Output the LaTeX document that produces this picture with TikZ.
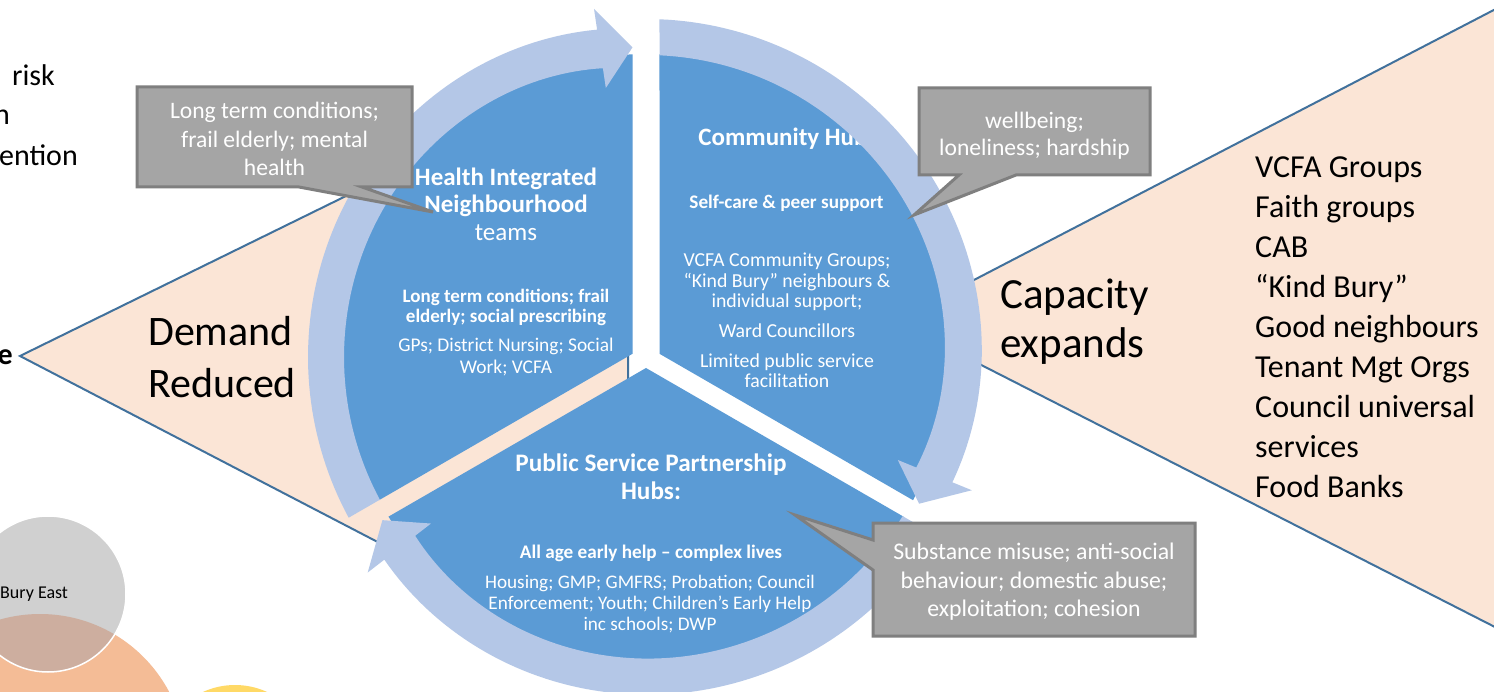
\documentclass[tikz,border=0pt]{standalone}
\usepackage{fontspec}
\setmainfont{Carlito}
\usetikzlibrary{calc}

\definecolor{pieblue}{HTML}{5B9BD5}
\definecolor{bandblue}{HTML}{B4C7E7}
\definecolor{peach}{HTML}{FBE5D6}
\definecolor{edgeblue}{HTML}{41719C}
\definecolor{callfill}{HTML}{A5A5A5}
\definecolor{calledge}{HTML}{7F7F7F}
\definecolor{venngray}{HTML}{D0D0D0}
\definecolor{vennorange}{HTML}{F4BC96}
\definecolor{vennmix}{HTML}{CDAE9F}
\definecolor{vennyellow}{HTML}{FFD966}

\newcommand{\fs}[2]{\fontsize{#1}{#2}\selectfont}

% One pie slice of the cycle: #1 start angle, #2/#3 half gaps, #4 inner corner
\newcommand{\pieseg}[4]{%
  \pgfmathsetmacro\segA{#1+asin(#2/303)}%
  \pgfmathsetmacro\segB{#1+120-asin(#3/303)}%
  \fill[pieblue] #4 -- plot[variable=\t, domain=\segA:\segB, samples=90] (\t:303) -- cycle;}

% Curved band with arrow head along the rim of a slice
\newcommand{\ringarrow}[3]{%
  \pgfmathsetmacro\arO{#1+asin(#2/338)}%
  \pgfmathsetmacro\arI{#1+asin(#2/302)}%
  \pgfmathsetmacro\arT{#1+120-asin(#3/310)}%
  \pgfmathsetmacro\arB{\arT-6}%
  \fill[bandblue]
    plot[variable=\t, domain=\arO:\arB, samples=80] (\t:{338-7*taper((\t-(\arO))/(\arB-(\arO)))})
    -- (\arB:352) -- (\arT:310) -- (\arB:272)
    -- plot[variable=\t, domain=\arB:\arI, samples=80] (\t:{302-10*taper((\t-(\arI))/(\arB-(\arI)))})
    -- cycle;}

\begin{document}
\begin{tikzpicture}[x=1pt, y=-1pt,
  declare function={taper(\u)=\u*\u*\u*\u*\u;},
  wtxt/.style={text=white, align=center, inner sep=0pt},
  btxt/.style={text=black, inner sep=0pt},
  callout/.style={fill=callfill, draw=calledge, line width=3pt, line join=miter},
  wedge/.style={fill=peach, draw=edgeblue, line width=2pt, line join=miter}]

\fill[white] (0,0) rectangle (1494,692);
\useasboundingbox (0,0) rectangle (1494,692);
\clip (0,0) rectangle (1494,692);

% demand and capacity wedges behind the cycle
\draw[wedge] (20,356) -- (628,57.6) -- (628,672.2) -- cycle;
\draw[wedge] (895,321) -- (1540,-14) -- (1540,650) -- cycle;

% the three slices
\begin{scope}[shift={(646,357)}]
  \pieseg{150}{9.5}{13.5}{(-13.5,-3.2)}
  \pieseg{-90}{13.5}{9.5}{(13.5,-3.2)}
  \pieseg{30}{9.5}{9.5}{(0,11)}
\end{scope}

% slice texts
\node[wtxt, font=\fs{25}{27.5}\bfseries] (hinTitle) at (506,204) {Health Integrated\\Neighbourhood\\{\mdseries teams}};
\node[wtxt, font=\fs{19}{20}\bfseries] (hinFocus) at (506,307) {Long term conditions; frail\\elderly; social prescribing};
\node[wtxt, font=\fs{19.4}{22}] (hinTeam) at (506,357) {GPs; District Nursing; Social\\Work; VCFA};

\node[wtxt, font=\fs{25}{27}\bfseries] (chTitle) at (783,139) {Community Hub};
\node[wtxt, font=\fs{19.2}{20}\bfseries] (chSelf) at (786.5,203) {Self-care \& peer support};
\node[wtxt, font=\fs{19.8}{20.5}] (chGroups) at (787,282) {VCFA Community Groups;\\“Kind Bury” neighbours \&\\individual support;};
\node[wtxt, font=\fs{19.8}{20}] (chWard) at (787,331) {Ward Councillors};
\node[wtxt, font=\fs{19.8}{20}] (chLimited) at (787,371) {Limited public service\\facilitation};

\node[wtxt, font=\fs{25.2}{28}\bfseries] (psTitle) at (651,477) {Public Service Partnership\\Hubs:};
\node[wtxt, font=\fs{19.2}{20}\bfseries] (psFocus) at (651,553) {All age early help – complex lives};
\node[wtxt, font=\fs{19.2}{21}] (psMembers) at (650,604) {Housing; GMP; GMFRS; Probation; Council\\Enforcement; Youth; Children’s Early Help\\inc schools; DWP};

% rim arrows
\begin{scope}[shift={(646,357)}]
  \ringarrow{150}{9.5}{13.5}
  \ringarrow{-90}{13.5}{9.5}
  \ringarrow{30}{9.5}{9.5}
\end{scope}

% callouts
\draw[callout] (137,87) -- (412,87) -- (412,187) -- (362,187) -- (433,212) -- (299,187) -- (137,187) -- cycle;
\node[wtxt, font=\fs{23.6}{28.5}] (cHealth) at (274.5,139) {Long term conditions;\\frail elderly; mental\\health};

\draw[callout] (919,88) -- (1150,88) -- (1150,175) -- (1016,175) -- (914,215) -- (959,175) -- (919,175) -- cycle;
\node[wtxt, font=\fs{23.6}{27}] (cWell) at (1034.5,136) {wellbeing;\\loneliness; hardship};

\draw[callout] (873,523) -- (1195,523) -- (1195,636) -- (873,636) -- (873,570) -- (795,515) -- (873,540) -- cycle;
\node[wtxt, font=\fs{23.8}{28.5}] (cAbuse) at (1034,582) {Substance misuse; anti-social\\behaviour; domestic abuse;\\exploitation; cohesion};

% area circles
\fill[vennorange] (40,760) circle[radius=146];
\fill[venngray] (48,594) circle[radius=78];
\begin{scope}
  \clip (40,760) circle[radius=146];
  \fill[vennmix] (48,594) circle[radius=78];
\end{scope}
\draw[white, line width=1.5pt] (48,594) circle[radius=78];
\fill[vennyellow] (235,762) circle[radius=77];
\node[btxt, anchor=base west, font=\fs{18}{20}] (buryEast) at (0,598) {Bury East};

% wedge labels
\node[btxt, align=left, anchor=west, font=\fs{42}{52}] (demand) at (148,357) {Demand\\Reduced};
\node[btxt, align=left, anchor=west, font=\fs{43}{49}] (capacity) at (1000,322) {Capacity\\expands};
\node[btxt, align=left, anchor=west, font=\fs{32}{40}] (partners) at (1255,327) {VCFA Groups\\Faith groups\\CAB\\“Kind Bury”\\Good neighbours\\Tenant Mgt Orgs\\Council universal\\services\\Food Banks};

% line ends at the left margin
\node[btxt, anchor=base east, font=\fs{30}{30}] (fragRisk) at (55,86) {risk};
\node[btxt, anchor=base east, font=\fs{30}{30}] (fragN) at (10,125) {n};
\node[btxt, anchor=base east, font=\fs{30}{30}] (fragEntion) at (78,166) {ention};
\node[btxt, anchor=base east, font=\fs{30}{30}\bfseries] (fragE) at (13,365) {e};

\end{tikzpicture}
\end{document}
